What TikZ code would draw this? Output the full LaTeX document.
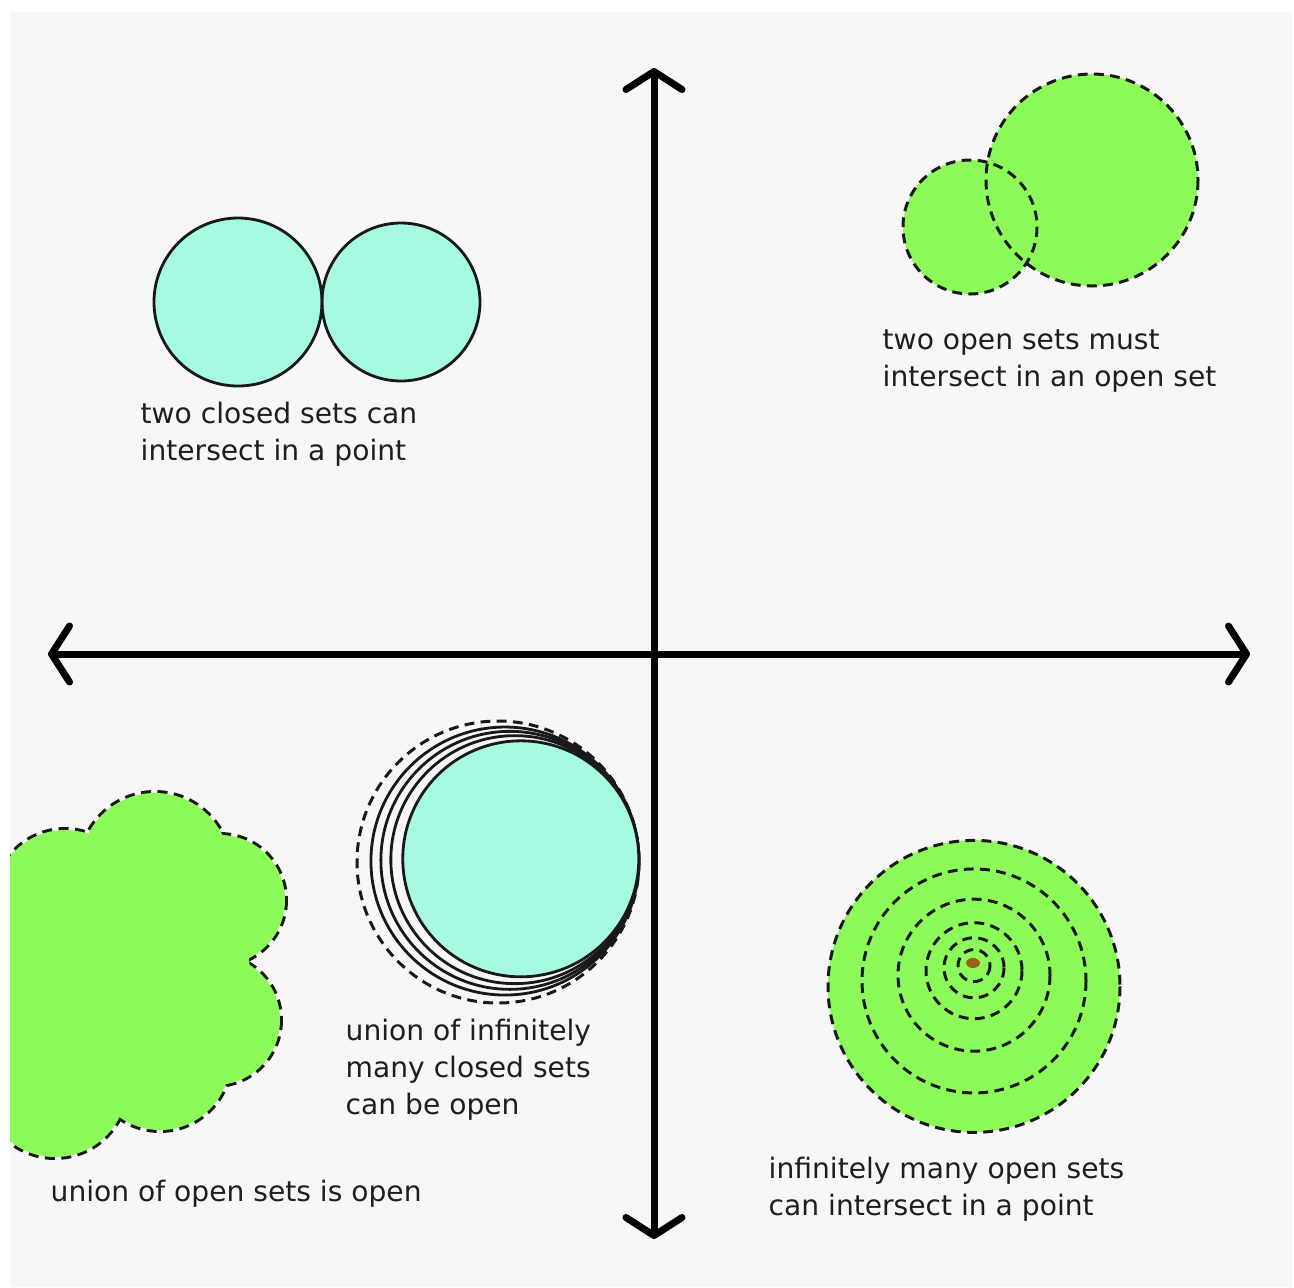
\documentclass[tikz,border=0pt]{standalone}
\usepackage{fontspec}
\setmainfont{DejaVu Sans}
\usetikzlibrary{arrows.meta}
\definecolor{bg}{HTML}{F7F7F7}
\definecolor{aqua}{HTML}{A6FAE2}
\definecolor{lime}{HTML}{8CFB5A}
\definecolor{dotc}{HTML}{A0601A}
\definecolor{txt}{HTML}{1E1E1E}
\tikzset{
  axisline/.style={line width=1.99pt, line cap=round, black,
    {Straight Barb[length=0.18cm,width=0.56cm,round]}-{Straight Barb[length=0.18cm,width=0.56cm,round]}},
  solidring/.style={draw=black!90, line width=0.8pt},
  dashring/.style={draw=black!90, line width=0.85pt, dash pattern=on 2.8pt off 1.8pt},
  blobdash/.style={draw=black!90, line width=1.7pt, dash pattern=on 2.8pt off 1.8pt},
  lbl/.style={text=txt, font=\fontsize{8}{10.5}\selectfont, align=left, inner sep=0pt, anchor=base west}
}
\begin{document}
\begin{tikzpicture}[x=0.01cm,y=-0.01cm]
\useasboundingbox (0,0) rectangle (1294,1287);
\fill[white] (0,0) rectangle (1294,1287);
\fill[bg] (10,12) rectangle (1292,1287);

% top-left: two closed sets touching at a point
\fill[aqua] (238,302) circle (84);
\fill[aqua] (401,302) circle (79);
\draw[solidring] (238,302) circle (84);
\draw[solidring] (401,302) circle (79);

% top-right: two open sets
\fill[lime] (970,227) circle (67);
\fill[lime] (1092,180) circle (106);
\draw[dashring] (970,227) circle (67);
\draw[dashring] (1092,180) circle (106);

% bottom-left: union of open sets (blob)
\begin{scope}
\clip (10,12) rectangle (1292,1287);
\foreach \cx/\cy/\r in {155/868/75, 65/900/70, 220/900/65, 215/1020/65, 160/1060/70, 55/1085/72}
  \draw[blobdash] (\cx,\cy) circle (\r);
\foreach \cx/\cy/\r in {155/868/75, 65/900/70, 220/900/65, 215/1020/65, 160/1060/70, 55/1085/72, 130/975/120, 30/985/80}
  \fill[lime] (\cx,\cy) circle (\r);
\end{scope}

% bottom-middle: union of infinitely many closed sets
\draw[dashring] (498,862) circle (141);
\foreach \r in {134,129,124}
  \draw[solidring] ({637.6-0.990*\r},{842.4+0.139*\r}) circle (\r);
\fill[aqua] ({637.6-0.990*118},{842.4+0.139*118}) circle (118);
\draw[solidring] ({637.6-0.990*118},{842.4+0.139*118}) circle (118);

% bottom-right: infinitely many open sets intersecting in a point
\fill[lime] (974,986) circle (146);
\foreach \r in {146,112,76,48,30,16}
  \draw[dashring] (974,{963+0.16*\r}) circle (\r);
\fill[dotc] (973,963) ellipse (7 and 5);

% axes
\coordinate (xl) at (48,654);
\coordinate (xr) at (1250,654);
\coordinate (yt) at (654,68);
\coordinate (yb) at (654,1239);
\draw[axisline] (xl) -- (xr);
\draw[axisline] (yt) -- (yb);

% labels (base anchor = baseline of last line)
\node[lbl] (l1) at (140,460) {two closed sets can\\intersect in a point};
\node[lbl] (l2) at (882,386) {two open sets must\\intersect in an open set};
\node[lbl] (l3) at (345,1114) {union of infinitely\\many closed sets\\can be open};
\node[lbl] (l4) at (50,1201) {union of open sets is open};
\node[lbl] (l5) at (768,1215) {infinitely many open sets\\can intersect in a point};
\end{tikzpicture}
\end{document}
